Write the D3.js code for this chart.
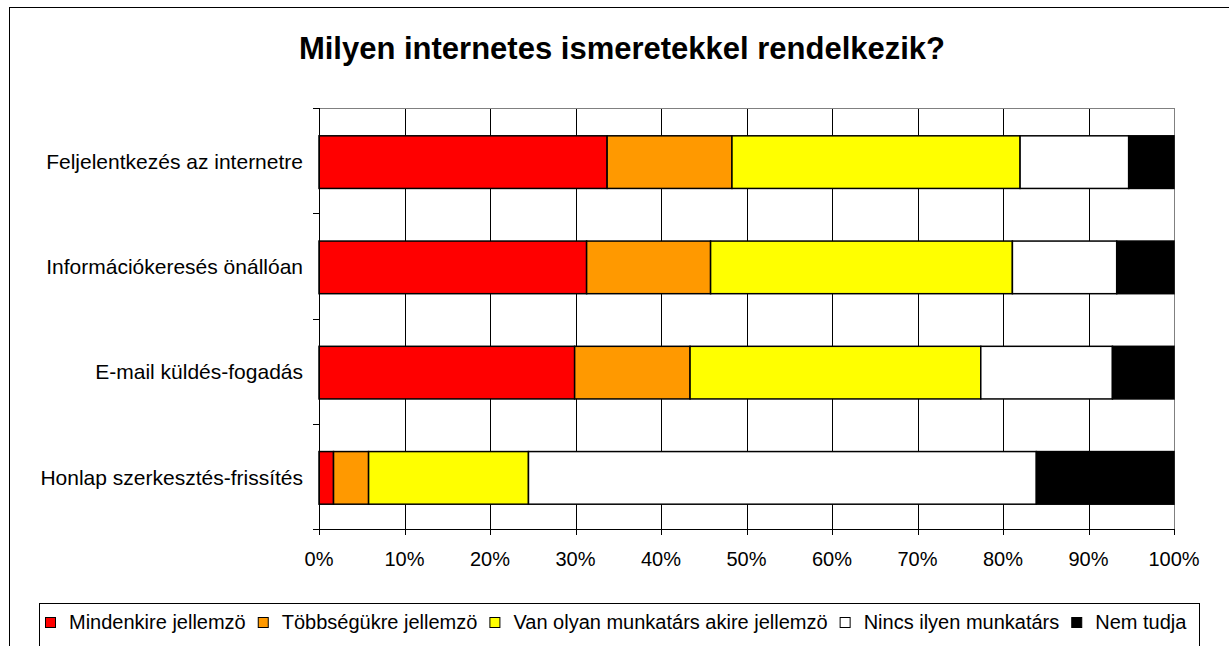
<!DOCTYPE html>
<html>
<head>
<meta charset="utf-8">
<script src="https://cdn.jsdelivr.net/npm/d3@7"></script>
<style>
  body { margin: 0; background: #fff; }
  svg { display: block; font-family: "Liberation Sans", Arial, sans-serif; }
</style>
</head>
<body>
<div id="chart"></div>
<script>
// Kategóriák (felülről lefelé)
const categories = [
  'Feljelentkezés az internetre',
  'Információkeresés önállóan',
  'E-mail küldés-fogadás',
  'Honlap szerkesztés-frissítés'
];

// Sorozatok (százalék)
const seriesNames = [
  'Mindenkire jellemzö',
  'Többségükre jellemzö',
  'Van olyan munkatárs akire jellemzö',
  'Nincs ilyen munkatárs',
  'Nem tudja'
];
const mindenkire   = [33.7, 31.3, 29.9, 1.7];
const tobbsegukre  = [14.6, 14.5, 13.5, 4.1];
const vanOlyan     = [33.7, 35.3, 34.0, 18.7];
const nincsIlyen   = [12.7, 12.2, 15.4, 59.4];
const nemTudja     = [5.3, 6.7, 7.2, 16.1];
const seriesColors = ['#ff0000', '#ff9900', '#ffff00', '#ffffff', '#000000'];

const xTicks = [0, 10, 20, 30, 40, 50, 60, 70, 80, 90, 100];

const W = 1229, H = 646;
const plot = { left: 319, right: 1174, top: 108, bottom: 529 };

const seriesValues = [mindenkire, tobbsegukre, vanOlyan, nincsIlyen, nemTudja];
const rows = categories.map((c, i) => {
  const r = { cat: c };
  seriesNames.forEach((s, k) => r[s] = seriesValues[k][i]);
  return r;
});
const stacked = d3.stack().keys(seriesNames)(rows);

const x = d3.scaleLinear().domain([0, 100]).range([plot.left, plot.right]);
const y = d3.scaleBand().domain(categories)
  .range([plot.top, plot.bottom])
  .paddingInner(0.5).paddingOuter(0.25);
const barShift = 1.5; // Excel kicsit lejjebb rajzolja az oszlopokat

const svg = d3.select('#chart').append('svg')
  .attr('width', W).attr('height', H);

// Külső keret
svg.append('rect')
  .attr('x', 9.5).attr('y', 7.5)
  .attr('width', W + 20).attr('height', H + 40)
  .attr('fill', '#fff').attr('stroke', '#000').attr('stroke-width', 1);

// Cím
svg.append('text')
  .attr('x', 622).attr('y', 59)
  .attr('text-anchor', 'middle')
  .attr('font-size', '31px').attr('font-weight', 'bold')
  .attr('fill', '#000')
  .text('Milyen internetes ismeretekkel rendelkezik?');

// Rácsvonalak
svg.append('g')
  .selectAll('line')
  .data(xTicks.slice(1, -1))
  .join('line')
  .attr('x1', d => Math.round(x(d)) + 0.5).attr('x2', d => Math.round(x(d)) + 0.5)
  .attr('y1', plot.top).attr('y2', plot.bottom)
  .attr('stroke', '#000').attr('stroke-width', 1);

// Plot keret
svg.append('rect')
  .attr('x', plot.left + 0.5).attr('y', plot.top + 0.5)
  .attr('width', plot.right - plot.left).attr('height', plot.bottom - plot.top)
  .attr('fill', 'none').attr('stroke', '#808080').attr('stroke-width', 1);

// Oszlopok
svg.append('g')
  .selectAll('g')
  .data(stacked)
  .join('g')
  .attr('fill', (d, i) => seriesColors[i])
  .selectAll('rect')
  .data(d => d)
  .join('rect')
  .attr('x', d => x(d[0]))
  .attr('width', d => x(d[1]) - x(d[0]))
  .attr('y', d => y(d.data.cat) + barShift)
  .attr('height', y.bandwidth())
  .attr('stroke', '#000').attr('stroke-width', 1.5);

// Y tengely
const yBounds = categories.map(c => y(c) - y.step() * y.paddingInner() / 2);
yBounds[0] = plot.top;
yBounds.push(plot.bottom);
svg.append('line')
  .attr('x1', plot.left + 0.5).attr('x2', plot.left + 0.5)
  .attr('y1', plot.top).attr('y2', plot.bottom)
  .attr('stroke', '#000');
svg.append('g')
  .selectAll('line')
  .data(yBounds)
  .join('line')
  .attr('x1', plot.left - 6).attr('x2', plot.left)
  .attr('y1', d => Math.round(d) + 0.5).attr('y2', d => Math.round(d) + 0.5)
  .attr('stroke', '#000');

svg.append('g')
  .selectAll('text')
  .data(categories)
  .join('text')
  .attr('x', 303)
  .attr('y', d => y(d) + barShift + y.bandwidth() / 2)
  .attr('dy', '0.32em')
  .attr('text-anchor', 'end')
  .attr('font-size', '21px')
  .attr('fill', '#000')
  .text(d => d);

// X tengely
svg.append('line')
  .attr('x1', plot.left).attr('x2', plot.right)
  .attr('y1', plot.bottom + 0.5).attr('y2', plot.bottom + 0.5)
  .attr('stroke', '#000');
svg.append('g')
  .selectAll('line')
  .data(xTicks)
  .join('line')
  .attr('x1', d => Math.round(x(d)) + 0.5).attr('x2', d => Math.round(x(d)) + 0.5)
  .attr('y1', plot.bottom).attr('y2', plot.bottom + 6)
  .attr('stroke', '#000');
svg.append('g')
  .selectAll('text')
  .data(xTicks)
  .join('text')
  .attr('x', d => x(d))
  .attr('y', 566)
  .attr('text-anchor', 'middle')
  .attr('font-size', '20px')
  .attr('fill', '#000')
  .text(d => d + '%');

// Jelmagyarázat
svg.append('rect')
  .attr('x', 39.5).attr('y', 603.5)
  .attr('width', 1160).attr('height', 60)
  .attr('fill', '#fff').attr('stroke', '#000').attr('stroke-width', 1);

const legend = svg.append('g');
let lx = 45;
seriesNames.forEach((s, i) => {
  legend.append('rect')
    .attr('x', lx + 0.5).attr('y', 617.5)
    .attr('width', 10).attr('height', 10)
    .attr('fill', seriesColors[i]).attr('stroke', '#000').attr('stroke-width', 1);
  const t = legend.append('text')
    .attr('x', lx + 24).attr('y', 629)
    .attr('font-size', '20px')
    .attr('fill', '#000')
    .text(s);
  lx = lx + 24 + t.node().getComputedTextLength() + 12;
});
</script>
</body>
</html>
